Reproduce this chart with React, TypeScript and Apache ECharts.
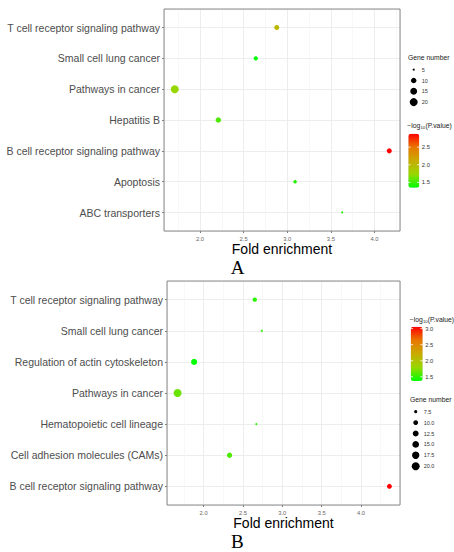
import React, { useEffect, useRef } from 'react';
import * as echarts from 'echarts';

// ---------- Data ----------
const categoriesA = [
  'T cell receptor signaling pathway',
  'Small cell lung cancer',
  'Pathways in cancer',
  'Hepatitis B',
  'B cell receptor signaling pathway',
  'Apoptosis',
  'ABC transporters',
];
const foldA = [2.88, 2.64, 1.71, 2.21, 4.17, 3.09, 3.63];
const geneA = [9, 7, 20, 10, 9, 6, 5];
const logPA = [2.0, 1.35, 1.73, 1.55, 2.88, 1.44, 1.42];

const categoriesB = [
  'T cell receptor signaling pathway',
  'Small cell lung cancer',
  'Regulation of actin cytoskeleton',
  'Pathways in cancer',
  'Hematopoietic cell lineage',
  'Cell adhesion molecules (CAMs)',
  'B cell receptor signaling pathway',
];
const foldB = [2.65, 2.74, 1.88, 1.67, 2.67, 2.33, 4.36];
const geneB = [9, 7, 13, 20, 7, 11, 10];
const logPB = [1.48, 1.5, 1.37, 1.66, 1.5, 1.58, 3.06];

const sizeBreaksA = [5, 10, 15, 20];
const sizeBreaksB = [7.5, 10, 12.5, 15, 17.5, 20];
const colorBreaksA = [1.5, 2.0, 2.5];
const colorBreaksB = [1.5, 2.0, 2.5, 3.0];
const minorBreaks = [1.75, 2.25, 2.75, 3.25, 3.75, 4.25];
const tagLabels = ['A', 'B'];

// ---------- Styles ----------
const FONT = 'Liberation Sans, Arial, Helvetica, sans-serif';
const SERIF = 'Liberation Serif, Times New Roman, serif';
const colorStops = ['#00FF00', '#98D700', '#C9AB00', '#E87700', '#FF0000'];
const D_MIN = 2;
const D_MAX = 8;
const TITLE_SIZE = 6.8;
const SUB_SIZE = 4.2;

function textWidth(t: string, size: number) {
  const c = document.createElement('canvas').getContext('2d');
  if (!c) return t.length * size * 0.55;
  c.font = `${size}px ${FONT}`;
  return c.measureText(t).width;
}

type Panel = {
  cats: string[];
  fold: number[];
  gene: number[];
  logp: number[];
  sizeBreaks: number[];
  colorBreaks: number[];
  grid: { left: number; top: number; width: number; height: number };
  sizeLeg: { x: number; titleY: number; firstY: number; step: number };
  colorLeg: { x: number; titleY: number; barTop: number; barH: number; barW: number };
  tag: { x: number; y: number };
  nameGap: number;
};

const panels: Panel[] = [
  {
    cats: categoriesA, fold: foldA, gene: geneA, logp: logPA,
    sizeBreaks: sizeBreaksA, colorBreaks: colorBreaksA,
    grid: { left: 164, top: 9, width: 236, height: 222 },
    sizeLeg: { x: 408, titleY: 57.5, firstY: 69.7, step: 10.8 },
    colorLeg: { x: 408.3, titleY: 125.3, barTop: 133.7, barH: 54, barW: 11 },
    tag: { x: 237.5, y: 267.5 },
    nameGap: 9.5,
  },
  {
    cats: categoriesB, fold: foldB, gene: geneB, logp: logPB,
    sizeBreaks: sizeBreaksB, colorBreaks: colorBreaksB,
    grid: { left: 167, top: 281, width: 233, height: 224 },
    sizeLeg: { x: 410, titleY: 399.3, firstY: 411.7, step: 10.9 },
    colorLeg: { x: 410.7, titleY: 319.3, barTop: 326.7, barH: 54.3, barW: 12 },
    tag: { x: 237.3, y: 541.5 },
    nameGap: 9,
  },
];

function buildOption() {
  const grids: any[] = [];
  const xAxes: any[] = [];
  const yAxes: any[] = [];
  const series: any[] = [];
  const visualMaps: any[] = [];
  const graphics: any[] = [];

  panels.forEach((p, k) => {
    const gmin = Math.min(...p.gene);
    const gmax = Math.max(...p.gene);
    const diam = (g: number) => D_MIN + (D_MAX - D_MIN) * Math.sqrt(Math.max(0, (g - gmin) / (gmax - gmin)));
    const xlo = Math.min(...p.fold);
    const xhi = Math.max(...p.fold);
    const pad = 0.05 * (xhi - xlo);
    const cmin = Math.min(...p.logp);
    const cmax = Math.max(...p.logp);

    grids.push({
      left: p.grid.left, top: p.grid.top, width: p.grid.width, height: p.grid.height,
      show: true, backgroundColor: 'transparent', borderColor: '#8a8a8a', borderWidth: 1, z: 4,
      containLabel: false,
    });
    xAxes.push({
      type: 'value', gridIndex: k, min: xlo - pad, max: xhi + pad, splitNumber: 5, position: 'bottom',
      axisLine: { show: false, onZero: false },
      axisTick: { show: true, length: 2, lineStyle: { color: '#444', width: 0.7 } },
      axisLabel: {
        fontSize: 5.8, color: '#666', margin: 4.5, fontFamily: FONT,
        showMinLabel: false, showMaxLabel: false,
        formatter: (v: number) => v.toFixed(1),
      },
      splitLine: { show: true, lineStyle: { color: '#ebebeb', width: 0.9 } },
      name: 'Fold enrichment', nameLocation: 'middle', nameGap: p.nameGap,
      nameTextStyle: { fontSize: 14, color: '#000', fontFamily: FONT, verticalAlign: 'top' },
    });
    const nCat = p.cats.length;
    yAxes.push({
      type: 'value', gridIndex: k, inverse: true, min: -0.6, max: nCat - 1 + 0.6, splitNumber: nCat, position: 'left',
      axisLine: { show: false, onZero: false },
      axisTick: { show: true, length: 2, lineStyle: { color: '#444', width: 0.7 } },
      axisLabel: {
        fontSize: 10.5, color: '#4d4d4d', margin: 4, fontFamily: FONT,
        showMinLabel: false, showMaxLabel: false,
        formatter: (v: number) => {
          const i = Math.round(v);
          return Math.abs(v - i) < 1e-6 && i >= 0 && i < nCat ? p.cats[i] : '';
        },
      },
      splitLine: { show: true, lineStyle: { color: '#ebebeb', width: 0.9 } },
    });
    // minor grid lines
    series.push({
      type: 'line', xAxisIndex: k, yAxisIndex: k, data: [], silent: true, z: 1,
      markLine: {
        silent: true, symbol: ['none', 'none'], label: { show: false }, z: 1,
        lineStyle: { color: '#f3f3f3', width: 0.6, type: 'solid' },
        emphasis: { disabled: true },
        data: minorBreaks.filter((v) => v > xlo - pad && v < xhi + pad).map((v) => ({ xAxis: v })),
      },
    });
    const sIdx = series.length;
    series.push({
      type: 'scatter', xAxisIndex: k, yAxisIndex: k, z: 3,
      data: p.cats.map((c, i) => [p.fold[i], i, p.gene[i], p.logp[i], c]),
      symbol: 'circle',
      symbolSize: (v: number[]) => diam(v[2]),
      itemStyle: { opacity: 1 },
      emphasis: { disabled: true },
    });
    visualMaps.push({
      type: 'continuous', seriesIndex: sIdx, dimension: 3, min: cmin, max: cmax,
      inRange: { color: colorStops },
      left: p.colorLeg.x, top: p.colorLeg.barTop,
      itemWidth: p.colorLeg.barW, itemHeight: p.colorLeg.barH,
      calculable: false, padding: 0, hoverLink: false, showLabel: false,
    });

    // size legend
    graphics.push({
      type: 'text', x: p.sizeLeg.x, y: p.sizeLeg.titleY,
      style: { text: 'Gene number', fontSize: TITLE_SIZE, fontFamily: FONT, fill: '#1a1a1a', align: 'left', verticalAlign: 'middle' },
    });
    const allInt = p.sizeBreaks.every((v) => Number.isInteger(v));
    p.sizeBreaks.forEach((b, i) => {
      const cy = p.sizeLeg.firstY + i * p.sizeLeg.step;
      graphics.push({
        type: 'circle', shape: { cx: p.sizeLeg.x + 5.7, cy, r: diam(b) / 2 }, style: { fill: '#000' },
      });
      graphics.push({
        type: 'text', x: p.sizeLeg.x + 13.7, y: cy,
        style: { text: allInt ? String(b) : b.toFixed(1), fontSize: 5.5, fontFamily: FONT, fill: '#333', align: 'left', verticalAlign: 'middle' },
      });
    });

    // colour legend title (−log10(P.value) with subscript) built from plain texts
    const tx0 = p.colorLeg.x - 1;
    const ty = p.colorLeg.titleY;
    const w1 = textWidth('−log', TITLE_SIZE);
    const w2 = textWidth('10', SUB_SIZE);
    graphics.push({
      type: 'text', x: tx0, y: ty,
      style: { text: '−log', fontSize: TITLE_SIZE, fontFamily: FONT, fill: '#1a1a1a', align: 'left', verticalAlign: 'middle' },
    });
    graphics.push({
      type: 'text', x: tx0 + w1 + 0.2, y: ty + 2.2,
      style: { text: '10', fontSize: SUB_SIZE, fontFamily: FONT, fill: '#1a1a1a', align: 'left', verticalAlign: 'middle' },
    });
    graphics.push({
      type: 'text', x: tx0 + w1 + w2 + 0.4, y: ty,
      style: { text: '(P.value)', fontSize: TITLE_SIZE, fontFamily: FONT, fill: '#1a1a1a', align: 'left', verticalAlign: 'middle' },
    });

    const { x: bx, barTop, barH, barW } = p.colorLeg;
    p.colorBreaks.forEach((b) => {
      const y = barTop + ((cmax - b) / (cmax - cmin)) * barH;
      graphics.push({ type: 'line', shape: { x1: bx, y1: y, x2: bx + barW / 5, y2: y }, style: { stroke: '#fff', lineWidth: 0.8 }, z: 10 });
      graphics.push({ type: 'line', shape: { x1: bx + barW - barW / 5, y1: y, x2: bx + barW, y2: y }, style: { stroke: '#fff', lineWidth: 0.8 }, z: 10 });
      graphics.push({
        type: 'text', x: bx + barW + 2.5, y,
        style: { text: b.toFixed(1), fontSize: 5.8, fontFamily: FONT, fill: '#333', align: 'left', verticalAlign: 'middle' },
      });
    });

    graphics.push({
      type: 'text', x: p.tag.x, y: p.tag.y,
      style: { text: tagLabels[k], fontSize: 19, fontFamily: SERIF, fill: '#000', align: 'center', verticalAlign: 'middle' },
    });
  });

  return {
    animation: false,
    backgroundColor: '#fff',
    textStyle: { fontFamily: FONT },
    grid: grids,
    xAxis: xAxes,
    yAxis: yAxes,
    series,
    visualMap: visualMaps,
    graphic: graphics,
  };
}

export default function App() {
  const ref = useRef<HTMLDivElement>(null);
  useEffect(() => {
    if (!ref.current) return;
    const chart = echarts.init(ref.current, undefined, { renderer: 'svg' });
    chart.setOption(buildOption() as any);
    return () => chart.dispose();
  }, []);
  return (
    <div
      ref={ref}
      style={{ position: 'fixed', left: 0, top: 0, width: 454, height: 552, background: '#fff' }}
    />
  );
}
